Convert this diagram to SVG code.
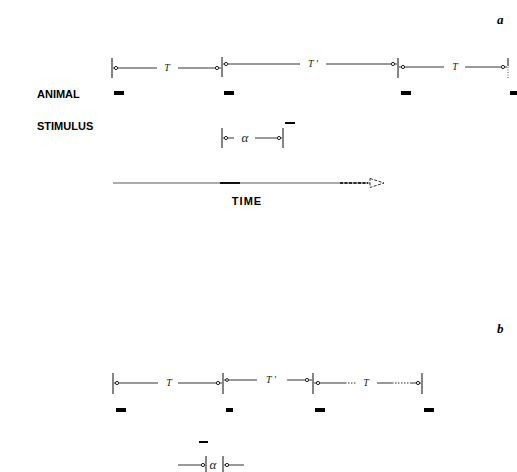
<svg xmlns="http://www.w3.org/2000/svg" width="517" height="472" viewBox="0 0 517 472">
<style>
.dim{stroke:#333;stroke-width:1;fill:none}
.tick{stroke:#333;stroke-width:1.2}
.end{fill:#fff;stroke:#222;stroke-width:1}
.bar{fill:#000}
.lab{font-family:"Liberation Sans",Arial,sans-serif;font-weight:bold;font-size:11px;fill:#000}
.sym{font-family:"Liberation Serif","Times New Roman",serif;font-style:italic;font-size:10px;fill:#222}
.alpha{font-family:"Liberation Serif","Times New Roman",serif;font-style:italic;font-size:13px;fill:#222}
.pan{font-family:"Liberation Serif","Times New Roman",serif;font-style:italic;font-weight:bold;font-size:13px;fill:#000}
</style>
<rect width="517" height="472" fill="#fff"/>

<g id="panel-a">
  <text class="pan" x="497" y="24">a</text>
  <g id="a-period-T1">
    <line class="tick" x1="112" y1="58" x2="112" y2="78"/>
    <line class="dim" x1="113" y1="68" x2="157" y2="68"/>
    <line class="dim" x1="178" y1="68" x2="221" y2="68"/>
    <circle class="end" cx="116" cy="68" r="1.6"/>
    <circle class="end" cx="217" cy="68" r="1.6"/>
    <text class="sym" x="167" y="71" text-anchor="middle">T</text>
  </g>
  <g id="a-period-T2">
    <line class="tick" x1="222" y1="57" x2="222" y2="77"/>
    <line class="dim" x1="223" y1="64" x2="300" y2="64"/>
    <line class="dim" x1="326" y1="64" x2="397" y2="64"/>
    <circle class="end" cx="226" cy="64" r="1.6"/>
    <circle class="end" cx="393" cy="64" r="1.6"/>
    <text class="sym" x="313" y="67" text-anchor="middle">T '</text>
  </g>
  <g id="a-period-T3">
    <line class="tick" x1="398" y1="58" x2="398" y2="78"/>
    <line class="dim" x1="399" y1="67" x2="444" y2="67"/>
    <line class="dim" x1="465" y1="67" x2="507" y2="67"/>
    <circle class="end" cx="403" cy="67" r="1.6"/>
    <circle class="end" cx="503" cy="67" r="1.6"/>
    <text class="sym" x="455" y="70" text-anchor="middle">T</text>
    <line class="tick" x1="508" y1="58" x2="508" y2="66"/>
    <line x1="508" y1="67" x2="508" y2="78" stroke="#555" stroke-width="1" stroke-dasharray="1,1.5"/>
  </g>
  <g id="a-animal">
    <text class="lab" x="37" y="98">ANIMAL</text>
    <rect class="bar" x="114" y="91" width="10" height="4"/>
    <rect class="bar" x="224" y="91" width="10" height="4"/>
    <rect class="bar" x="401" y="91" width="10" height="4"/>
    <rect class="bar" x="510" y="91" width="7" height="4"/>
  </g>
  <g id="a-stimulus">
    <text class="lab" x="37" y="130">STIMULUS</text>
    <rect class="bar" x="285" y="122" width="10" height="2"/>
  </g>
  <g id="a-alpha">
    <line class="tick" x1="222" y1="128" x2="222" y2="148"/>
    <line class="tick" x1="283" y1="128" x2="283" y2="148"/>
    <line class="dim" x1="223" y1="138" x2="234" y2="138"/>
    <line class="dim" x1="255" y1="138" x2="282" y2="138"/>
    <circle class="end" cx="226" cy="138" r="1.6"/>
    <circle class="end" cx="279" cy="138" r="1.6"/>
    <text class="alpha" x="245" y="142" text-anchor="middle">α</text>
  </g>
  <g id="a-time">
    <line x1="113" y1="183" x2="370" y2="183" stroke="#444" stroke-width="0.9"/>
    <line x1="220" y1="183" x2="240" y2="183" stroke="#000" stroke-width="1.8"/>
    <line x1="340" y1="183" x2="368" y2="183" stroke="#000" stroke-width="1.4" stroke-dasharray="3,1.5"/>
    <polygon points="370,178.5 384,183 370,187.5" fill="#fff" stroke="#333" stroke-width="1" stroke-dasharray="3,1.5"/>
    <text class="lab" x="247" y="205" text-anchor="middle" letter-spacing="1">TIME</text>
  </g>
</g>

<g id="panel-b">
  <text class="pan" x="497" y="333">b</text>
  <g id="b-period-T1">
    <line class="tick" x1="113" y1="373" x2="113" y2="394"/>
    <line class="dim" x1="114" y1="383" x2="158" y2="383"/>
    <line class="dim" x1="178" y1="383" x2="222" y2="383"/>
    <circle class="end" cx="117" cy="383" r="1.6"/>
    <circle class="end" cx="218" cy="383" r="1.6"/>
    <text class="sym" x="169" y="386" text-anchor="middle">T</text>
  </g>
  <g id="b-period-T2">
    <line class="tick" x1="223" y1="373" x2="223" y2="394"/>
    <line class="dim" x1="224" y1="380" x2="257" y2="380"/>
    <line class="dim" x1="287" y1="380" x2="312" y2="380"/>
    <circle class="end" cx="227" cy="380" r="1.4"/>
    <circle class="end" cx="307" cy="380" r="1.6"/>
    <text class="sym" x="271" y="383" text-anchor="middle">T '</text>
  </g>
  <g id="b-period-T3">
    <line class="tick" x1="313" y1="373" x2="313" y2="394"/>
    <line class="dim" x1="314" y1="383" x2="345" y2="383"/>
    <line x1="345" y1="383" x2="357" y2="383" stroke="#333" stroke-width="1" stroke-dasharray="1.5,1.5"/>
    <line class="dim" x1="377" y1="383" x2="392" y2="383"/>
    <line x1="392" y1="383" x2="410" y2="383" stroke="#333" stroke-width="1" stroke-dasharray="1.5,1.5"/>
    <line class="dim" x1="410" y1="383" x2="421" y2="383"/>
    <circle class="end" cx="318" cy="383" r="1.6"/>
    <circle class="end" cx="418" cy="383" r="1.6"/>
    <text class="sym" x="366" y="386" text-anchor="middle">T</text>
    <line class="tick" x1="422" y1="373" x2="422" y2="394"/>
  </g>
  <g id="b-animal">
    <rect class="bar" x="116" y="408" width="10" height="4"/>
    <rect class="bar" x="226" y="408" width="7" height="4"/>
    <rect class="bar" x="315" y="408" width="10" height="4"/>
    <rect class="bar" x="424" y="408" width="10" height="4"/>
  </g>
  <g id="b-stimulus">
    <rect class="bar" x="199" y="441" width="9" height="2"/>
  </g>
  <g id="b-alpha">
    <line class="dim" x1="178" y1="465" x2="205" y2="465"/>
    <line class="tick" x1="206" y1="456" x2="206" y2="472"/>
    <circle class="end" cx="203" cy="465" r="1.6"/>
    <text class="alpha" x="213" y="469" text-anchor="middle">α</text>
    <line class="tick" x1="223" y1="456" x2="223" y2="472"/>
    <line class="dim" x1="224" y1="465" x2="244" y2="465"/>
    <circle class="end" cx="227" cy="465" r="1.6"/>
  </g>
</g>
</svg>
